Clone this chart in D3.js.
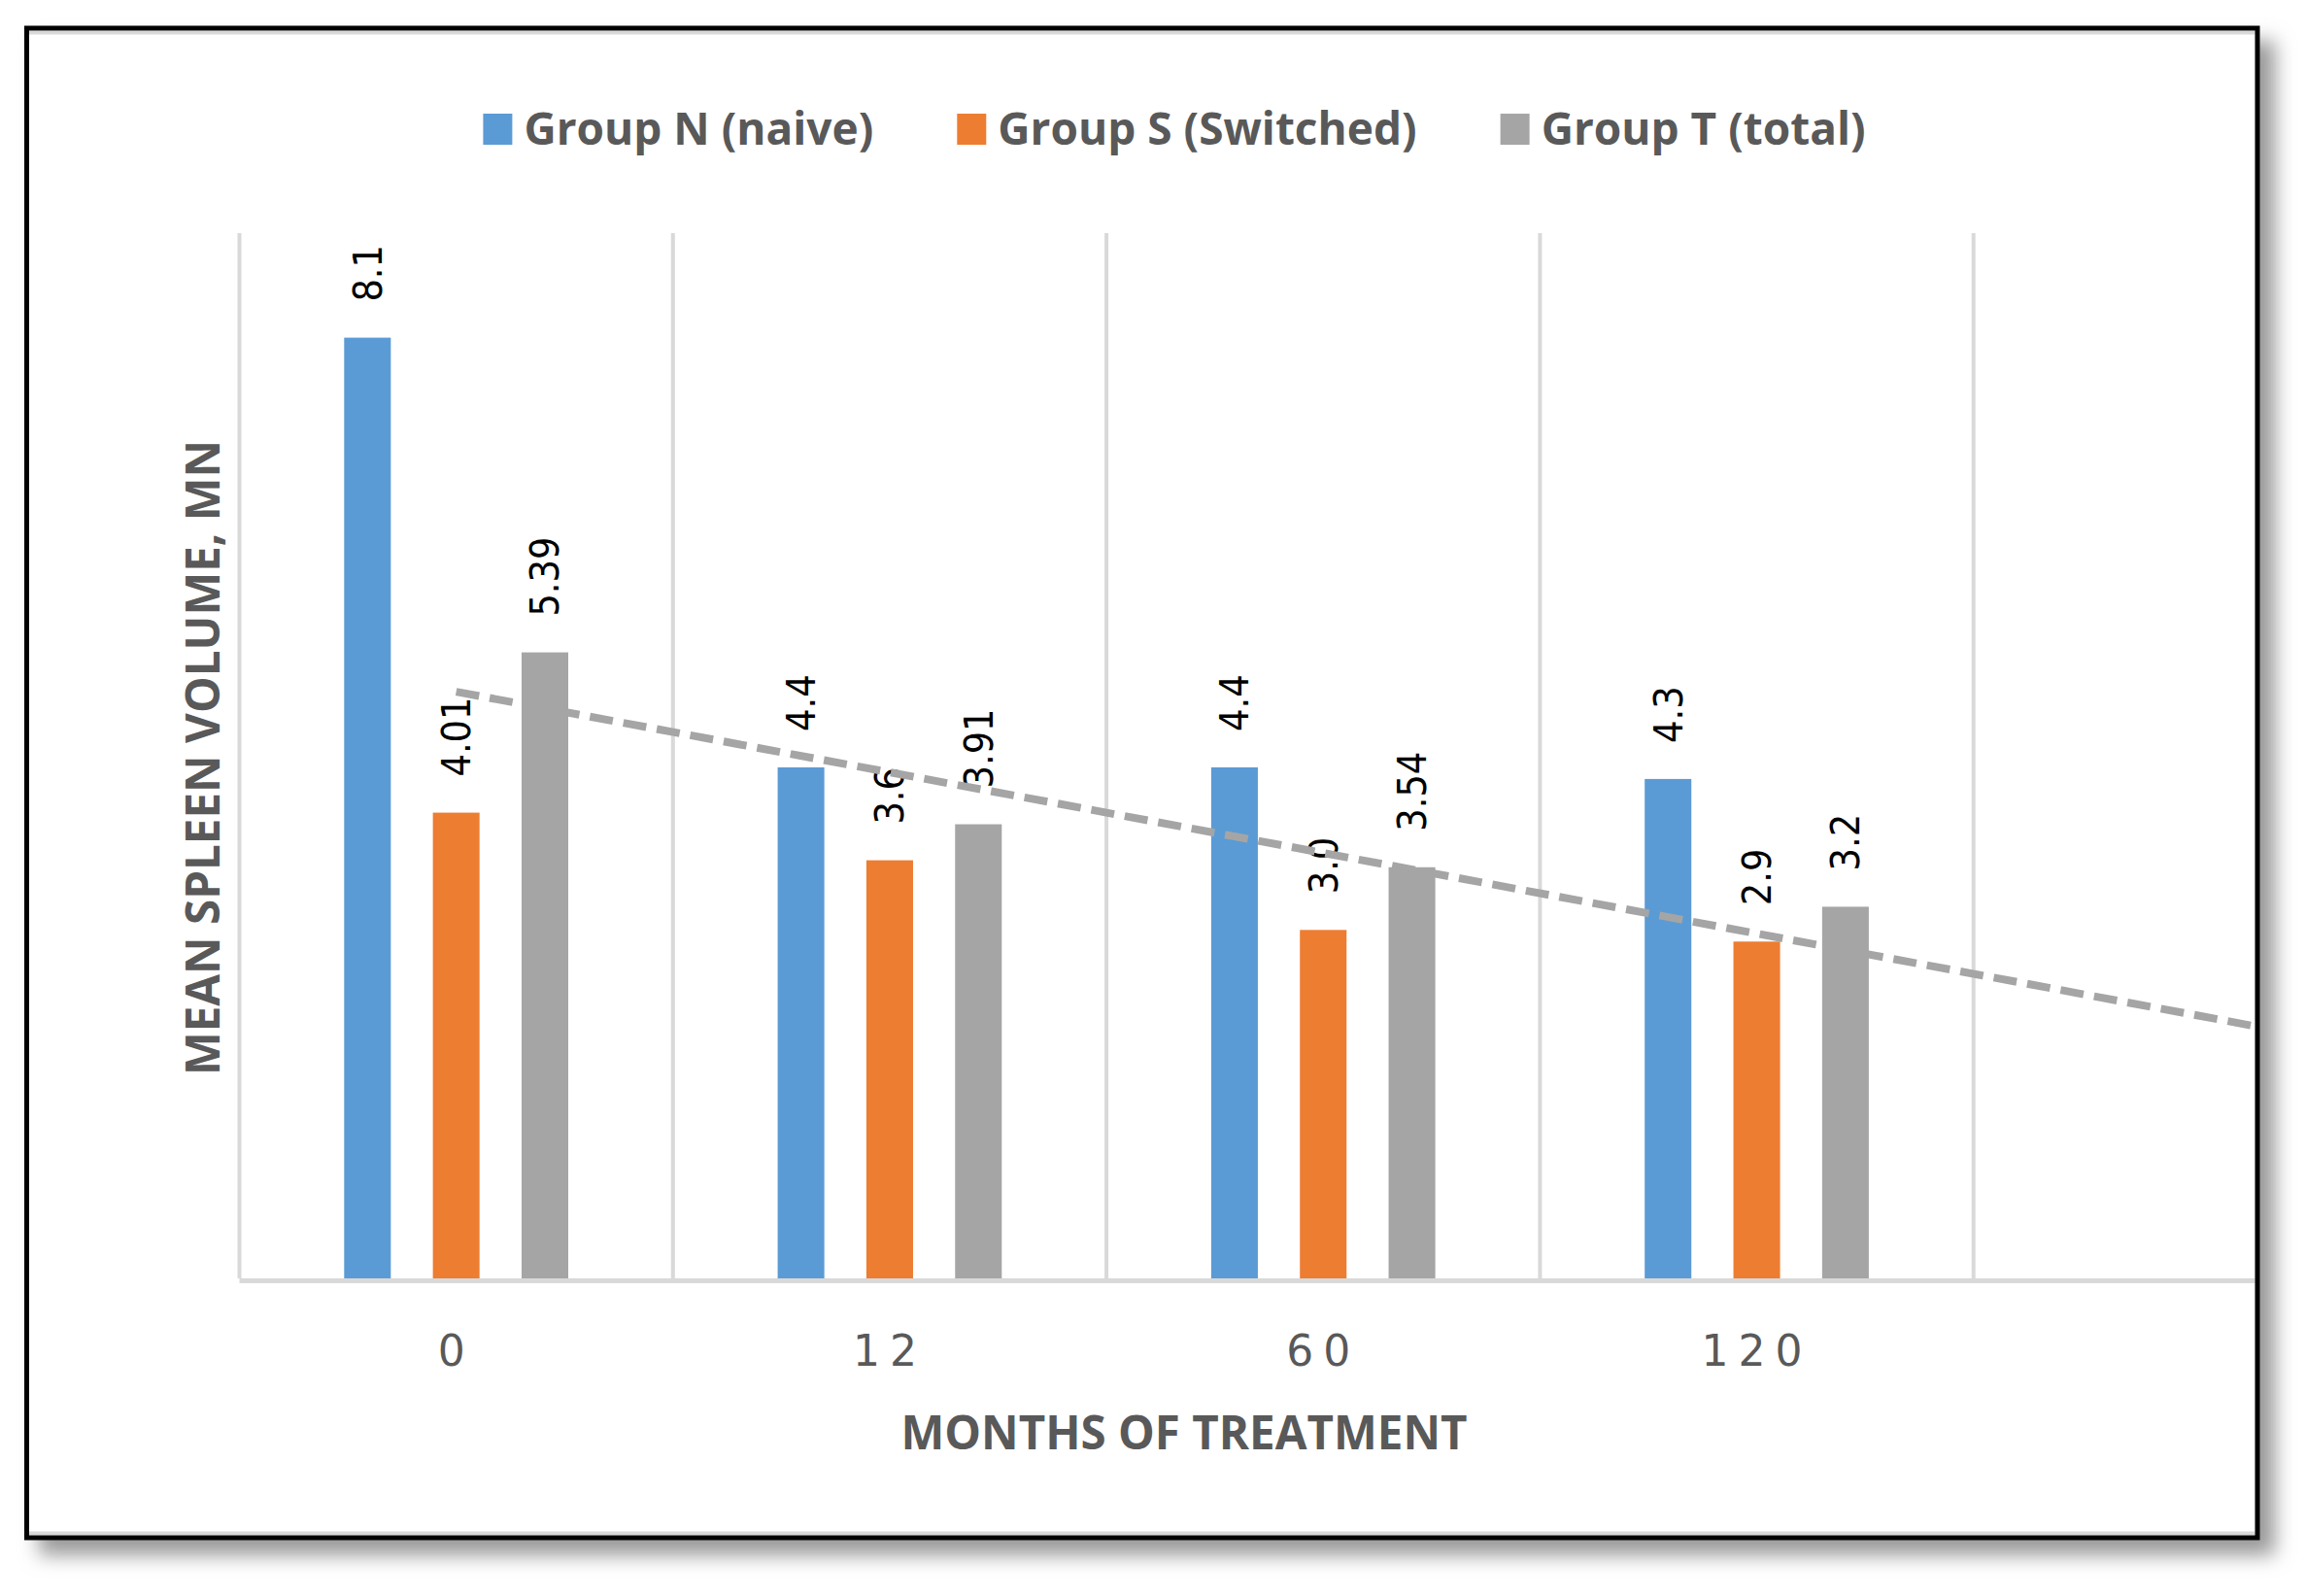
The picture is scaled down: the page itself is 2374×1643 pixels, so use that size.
<!DOCTYPE html>
<html>
<head>
<meta charset="utf-8">
<script src="https://cdn.jsdelivr.net/npm/d3@7"></script>
<style>
body { margin: 0; background: #ffffff; }
svg { display: block; }
</style>
</head>
<body>
<div id="grafico"></div>
<script>
// Datos
const meses = ["0", "12", "60", "120"];
const grupos = ["Group N (naive)", "Group S (Switched)", "Group T (total)"];
const grupoN = [8.1, 4.4, 4.4, 4.3];
const grupoS = [4.01, 3.6, 3.0, 2.9];
const grupoT = [5.39, 3.91, 3.54, 3.2];
const etiquetasN = ["8.1", "4.4", "4.4", "4.3"];
const etiquetasS = ["4.01", "3.6", "3.0", "2.9"];
const etiquetasT = ["5.39", "3.91", "3.54", "3.2"];
const colores = ["#5b9bd5", "#ed7d31", "#a5a5a5"];

const width = 2374;
const height = 1643;

// marco
const frameL = 27.5, frameT = 29, frameR = 2324, frameB = 1583;
// zona del grafico
const plotLeft = 246.5;
const bandW = 446.3;
const plotTop = 240;
const baseY = 1316;

const series = [
    {nombre: grupos[0], valores: grupoN, etiquetas: etiquetasN, color: colores[0]},
    {nombre: grupos[1], valores: grupoS, etiquetas: etiquetasS, color: colores[1]},
    {nombre: grupos[2], valores: grupoT, etiquetas: etiquetasT, color: colores[2]}
];

const svg = d3.select("#grafico")
    .append("svg")
    .attr("width", width)
    .attr("height", height);

const defs = svg.append("defs");
defs.append("filter")
    .attr("id", "sombra")
    .attr("x", "-5%").attr("y", "-5%")
    .attr("width", "110%").attr("height", "110%")
    .append("feGaussianBlur")
    .attr("stdDeviation", 10);

defs.append("clipPath")
    .attr("id", "recorte")
    .append("rect")
    .attr("x", frameL + 2.5)
    .attr("y", frameT + 2.5)
    .attr("width", frameR - frameL - 5)
    .attr("height", frameB - frameT - 5);

// sombra
svg.append("rect")
    .attr("x", 40)
    .attr("y", 42)
    .attr("width", 2302)
    .attr("height", 1559)
    .attr("fill", "#999999")
    .attr("filter", "url(#sombra)");

// fondo del marco
svg.append("rect")
    .attr("x", frameL)
    .attr("y", frameT)
    .attr("width", frameR - frameL)
    .attr("height", frameB - frameT)
    .attr("fill", "#ffffff");

// Escalas
const x0 = d3.scaleBand()
    .domain(meses)
    .range([plotLeft, plotLeft + bandW * meses.length])
    .padding(0);

const x1 = d3.scaleBand()
    .domain(grupos)
    .range([bandW / 2 - 137, bandW / 2 + 137])
    .paddingInner(0.474)
    .paddingOuter(0.237);

const yScale = d3.scaleLinear()
    .domain([0, 9])
    .range([baseY, plotTop]);

const g = svg.append("g").attr("clip-path", "url(#recorte)");

// lineas grises del borde interior
g.selectAll("line.borde")
    .data([frameT + 4.5, frameB - 4.5])
    .enter()
    .append("line")
    .attr("x1", frameL).attr("x2", frameR)
    .attr("y1", d => d).attr("y2", d => d)
    .attr("stroke", "#d9d9d9")
    .attr("stroke-width", 4);

// rejilla vertical
const bordes = meses.map(m => x0(m)).concat([x0.range()[1]]);
g.selectAll("line.grid")
    .data(bordes)
    .enter()
    .append("line")
    .attr("class", "grid")
    .attr("x1", d => d).attr("x2", d => d)
    .attr("y1", plotTop).attr("y2", baseY)
    .attr("stroke", "#d9d9d9")
    .attr("stroke-width", 4);

// barras
const grupoG = g.selectAll("g.mes")
    .data(meses)
    .enter()
    .append("g")
    .attr("transform", d => `translate(${x0(d)},0)`);

grupoG.selectAll("rect")
    .data((m, i) => series.map(s => ({s: s, v: s.valores[i], t: s.etiquetas[i]})))
    .enter()
    .append("rect")
    .attr("x", d => x1(d.s.nombre))
    .attr("y", d => yScale(d.v))
    .attr("width", x1.bandwidth())
    .attr("height", d => yScale(0) - yScale(d.v))
    .attr("fill", d => d.s.color);

// eje x
g.append("line")
    .attr("x1", plotLeft).attr("x2", frameR)
    .attr("y1", baseY + 2.5).attr("y2", baseY + 2.5)
    .attr("stroke", "#d9d9d9")
    .attr("stroke-width", 5);

// etiquetas de datos
grupoG.selectAll("text.valor")
    .data((m, i) => series.map(s => ({s: s, v: s.valores[i], t: s.etiquetas[i]})))
    .enter()
    .append("text")
    .attr("class", "valor")
    .attr("transform", d => `translate(${x1(d.s.nombre) + x1.bandwidth() / 2},${yScale(d.v) - 37}) rotate(-90)`)
    .attr("dy", "0.35em")
    .attr("text-anchor", "start")
    .style("font-family", "'DejaVu Sans Condensed', 'DejaVu Sans', sans-serif")
    .style("font-stretch", "condensed")
    .style("font-size", "41px")
    .attr("fill", "#000000")
    .text(d => d.t);

// linea de tendencia (regresion lineal de Group T)
const idx = grupoT.map((v, i) => i);
const mx = d3.mean(idx), my = d3.mean(grupoT);
const pendiente = d3.sum(idx, i => (i - mx) * (grupoT[i] - my)) / d3.sum(idx, i => (i - mx) * (i - mx));
const corte = my - pendiente * mx;
const xCentro = i => plotLeft + bandW * (i + 0.5);
const tendencia = [0, 4.5].map(i => [xCentro(i), yScale(corte + pendiente * i)]);

g.append("path")
    .attr("d", d3.line()(tendencia))
    .attr("fill", "none")
    .attr("stroke", "#a5a5a5")
    .attr("stroke-width", 8)
    .attr("stroke-dasharray", "24,11");

// etiquetas del eje x
svg.selectAll("text.tick")
    .data(meses)
    .enter()
    .append("text")
    .attr("class", "tick")
    .attr("x", d => x0(d) + x0.bandwidth() / 2)
    .attr("y", 1406)
    .attr("text-anchor", "middle")
    .style("font-family", "'DejaVu Sans', sans-serif")
    .style("font-size", "44px")
    .style("letter-spacing", "10px")
    .attr("fill", "#595959")
    .text(d => d);

// titulo eje x
svg.append("text")
    .attr("x", 1219)
    .attr("y", 1492)
    .attr("text-anchor", "middle")
    .style("font-family", "'Open Sans', sans-serif")
    .style("font-weight", "bold")
    .style("font-size", "47.5px")
    .attr("fill", "#595959")
    .text("MONTHS OF TREATMENT");

// titulo eje y
svg.append("text")
    .attr("transform", "translate(226,780) rotate(-90)")
    .attr("text-anchor", "middle")
    .style("font-family", "'Open Sans', sans-serif")
    .style("font-weight", "bold")
    .style("font-size", "47.5px")
    .attr("fill", "#595959")
    .text("MEAN SPLEEN VOLUME, MN");

// leyenda
const leyenda = svg.append("g");
const items = leyenda.selectAll("g")
    .data(series)
    .enter()
    .append("g");

items.append("rect")
    .attr("y", 117)
    .attr("width", 30)
    .attr("height", 32)
    .attr("fill", d => d.color);

items.append("text")
    .attr("x", 42)
    .attr("y", 149)
    .style("font-family", "'Open Sans', sans-serif")
    .style("font-weight", "bold")
    .style("font-size", "46px")
    .attr("fill", "#595959")
    .text(d => d.nombre);

// colocar elementos de la leyenda
let posX = 0;
const anchos = [];
items.each(function () {
    const w = d3.select(this).select("text").node().getComputedTextLength();
    anchos.push(42 + w);
});
const total = d3.sum(anchos) + 86 * (anchos.length - 1);
posX = 1209 - total / 2;
items.attr("transform", (d, i) => {
    const t = `translate(${posX},0)`;
    posX += anchos[i] + 86;
    return t;
});

// borde negro
svg.append("rect")
    .attr("x", frameL)
    .attr("y", frameT)
    .attr("width", frameR - frameL)
    .attr("height", frameB - frameT)
    .attr("fill", "none")
    .attr("stroke", "#000000")
    .attr("stroke-width", 5);
</script>
</body>
</html>
